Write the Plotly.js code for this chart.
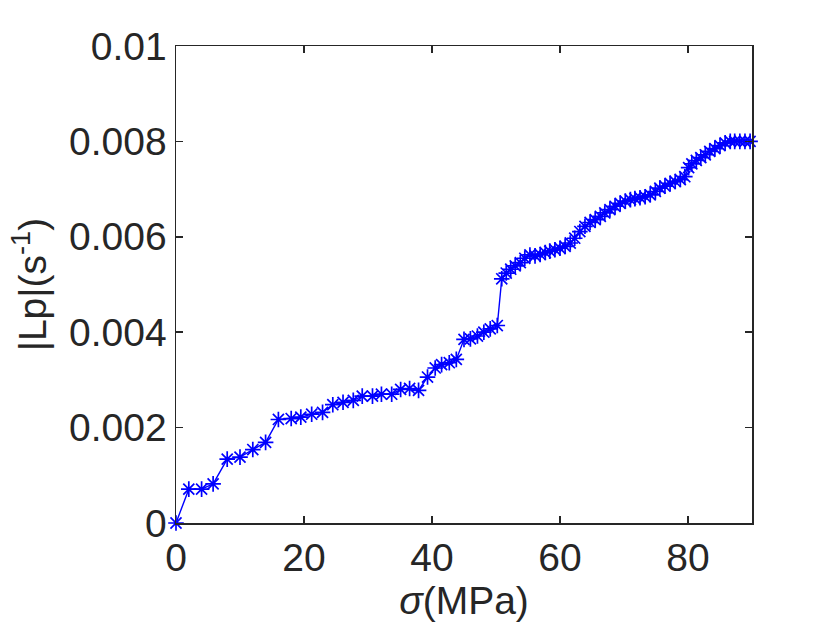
<!DOCTYPE html>
<html>
<head>
<meta charset="utf-8">
<script src="https://cdn.plot.ly/plotly-3.0.1.min.js"></script>
<style>html,body{margin:0;padding:0;background:#fff;}#chart{width:830px;height:623px;}</style>
</head>
<body>
<div id="chart"></div>
<script>
var sigma = [0, 2, 4, 5.8, 8, 10, 12, 14, 16, 18, 19.5, 21.2, 22.9, 24.5, 26.1, 27.7, 29.1, 30.7, 32.1, 33.7, 35.1, 36.5, 37.9, 39.3, 40.5, 41.5, 42.7, 43.8, 45.0, 46.0, 47.1, 48.1, 49.1, 50.2, 50.9, 51.6, 52.3, 53.0, 53.8, 54.5, 55.3, 56.1, 56.9, 57.7, 58.4, 59.2, 60.0, 60.8, 61.6, 62.3, 63.1, 63.9, 64.7, 65.5, 66.3, 67.0, 67.8, 68.6, 69.4, 70.2, 71.0, 71.7, 72.5, 73.3, 74.1, 74.9, 75.6, 76.4, 77.2, 78.0, 78.8, 79.5, 80.1, 80.6, 81.3, 82.0, 82.7, 83.4, 84.2, 85.0, 85.8, 86.6, 87.3, 88.1, 88.9, 89.7];
var lp = [0, 0.00071, 0.00071, 0.00082, 0.00134, 0.00138, 0.00154, 0.00169, 0.00217, 0.00219, 0.00222, 0.00228, 0.00232, 0.00248, 0.00253, 0.00257, 0.00266, 0.00266, 0.0027, 0.0027, 0.0028, 0.00282, 0.00278, 0.00306, 0.00325, 0.00332, 0.00336, 0.00343, 0.00385, 0.00386, 0.00392, 0.004, 0.00407, 0.00414, 0.00512, 0.00524, 0.00532, 0.00539, 0.00546, 0.00555, 0.00562, 0.0056, 0.00563, 0.00567, 0.0057, 0.00573, 0.00576, 0.0058, 0.00587, 0.00597, 0.00611, 0.00622, 0.0063, 0.00636, 0.00643, 0.0065, 0.00657, 0.00664, 0.0067, 0.00675, 0.00678, 0.0068, 0.00682, 0.00684, 0.00688, 0.00695, 0.00702, 0.00706, 0.00712, 0.00716, 0.0072, 0.00726, 0.00745, 0.00753, 0.0076, 0.00766, 0.00772, 0.00779, 0.00785, 0.00791, 0.00797, 0.008, 0.008, 0.008, 0.008, 0.008];
var xTicks = [0, 20, 40, 60, 80];
var yTicks = [0, 0.002, 0.004, 0.006, 0.008, 0.01];
var yTickText = ['0', '0.002', '0.004', '0.006', '0.008', '0.01'];

var FONT = 'Liberation Sans, Arial, Helvetica, sans-serif';
var trace = {
  x: sigma, y: lp, type: 'scatter', mode: 'lines+markers',
  line: {color: '#0000ff', width: 1.4},
  marker: {symbol: 'asterisk-open', size: 13, color: '#0000ff', line: {color: '#0000ff', width: 1.7}},
  cliponaxis: false, hoverinfo: 'none'
};
var axisCommon = {
  showgrid: false, zeroline: false, showline: true, mirror: 'ticks',
  linecolor: '#262626', linewidth: 1.5, ticks: 'inside', ticklen: 7, tickwidth: 1.5, tickcolor: '#262626',
  tickfont: {family: FONT, size: 39, color: '#262626'}
};
var layout = {
  width: 830, height: 623,
  margin: {l: 176, r: 78, t: 46, b: 100},
  paper_bgcolor: '#ffffff', plot_bgcolor: '#ffffff',
  showlegend: false,
  xaxis: Object.assign({}, axisCommon, {
    range: [0, 90], tickmode: 'array', tickvals: xTicks, ticktext: xTicks.map(String),
    title: {text: '<i>σ</i>(MPa)', font: {family: FONT, size: 39, color: '#262626'}, standoff: 2}
  }),
  yaxis: Object.assign({}, axisCommon, {
    range: [0, 0.01], tickmode: 'array', tickvals: yTicks, ticktext: yTickText,
    title: {text: '|Lp|(s<sup>-1</sup>)', font: {family: FONT, size: 39, color: '#262626'}, standoff: 10}
  })
};
Plotly.newPlot('chart', [trace], layout, {staticPlot: true, displayModeBar: false});
</script>
</body>
</html>
